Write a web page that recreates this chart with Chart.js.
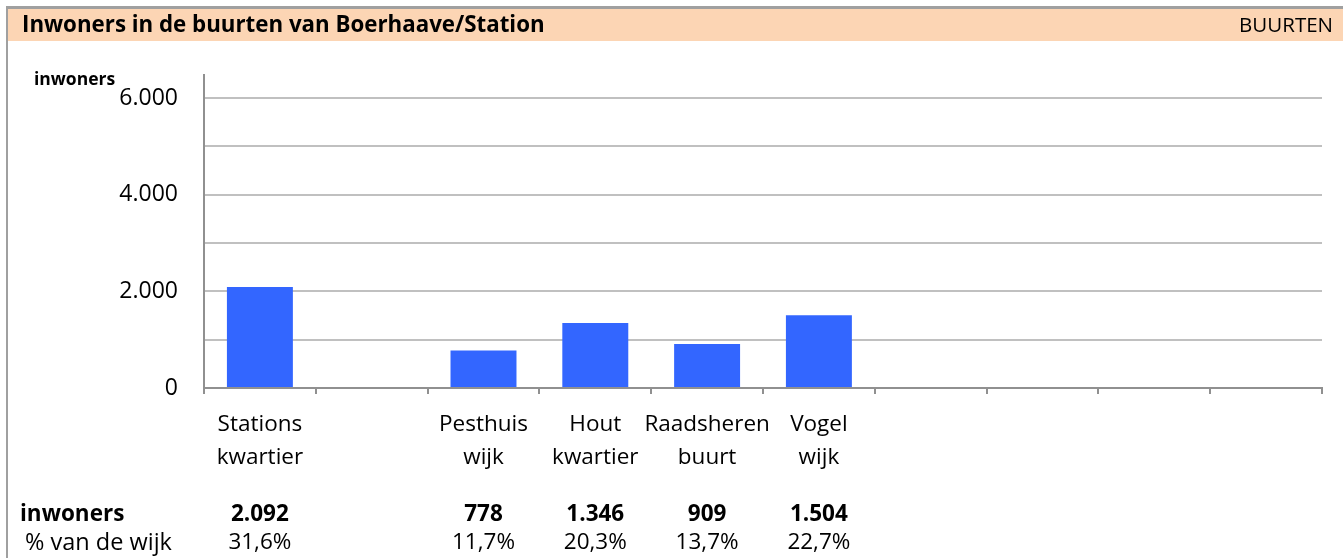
<!DOCTYPE html>
<html>
<head>
<meta charset="utf-8">
<script src="https://cdn.jsdelivr.net/npm/chart.js@4.4.0/dist/chart.umd.min.js"></script>
<style>
  html, body { margin: 0; padding: 0; background: #fff; }
  #wrap { width: 1343px; height: 558px; position: relative; }
</style>
</head>
<body>
<div id="wrap"><canvas id="buurtChart"></canvas></div>
<script>
// setup
const buurten = [
  ['Stations', 'kwartier'], '', ['Pesthuis', 'wijk'], ['Hout', 'kwartier'],
  ['Raadsheren', 'buurt'], ['Vogel', 'wijk'], '', '', '', ''
];
const inwoners = [2092, null, 778, 1346, 909, 1504, null, null, null, null];
const procentWijk = [31.6, null, 11.7, 20.3, 13.7, 22.7, null, null, null, null];
const yTicks = [0, 1000, 2000, 3000, 4000, 5000, 6000];

const FONT = '"Open Sans", sans-serif';

function nl(n) {
  return String(n).replace(/\B(?=(\d{3})+(?!\d))/g, '.');
}

// header, border and the little table underneath
const decor = {
  id: 'decor',
  beforeDraw(chart) {
    const ctx = chart.ctx;
    ctx.save();
    ctx.fillStyle = '#fcd5b4';
    ctx.fillRect(8, 8, 1335, 33);
    ctx.fillStyle = '#a0a0a0';
    ctx.fillRect(6, 6, 1337, 3);
    ctx.fillRect(6, 6, 2, 552);
    ctx.fillStyle = '#000';
    ctx.textBaseline = 'middle';
    ctx.font = 'bold 22.3px ' + FONT;
    ctx.fillText('Inwoners in de buurten van Boerhaave/Station', 22, 26);
    ctx.font = '20.5px ' + FONT;
    ctx.textAlign = 'right';
    ctx.fillText('BUURTEN', 1333, 26);
    ctx.textAlign = 'left';
    ctx.font = 'bold 17.5px ' + FONT;
    ctx.fillText('inwoners', 34, 80);
    ctx.restore();
  },
  afterDraw(chart) {
    const ctx = chart.ctx;
    const x = chart.scales.x;
    ctx.save();
    ctx.fillStyle = '#000';
    ctx.textBaseline = 'middle';
    ctx.font = 'bold 22.5px ' + FONT;
    ctx.fillText('inwoners', 20, 515);
    ctx.font = '23.5px ' + FONT;
    ctx.fillText('% van de wijk', 25, 543);
    ctx.textAlign = 'center';
    inwoners.forEach((v, i) => {
      if (v === null) return;
      const px = x.getPixelForValue(i);
      ctx.font = 'bold 22.5px ' + FONT;
      ctx.fillText(nl(v), px, 515);
      ctx.font = '22.5px ' + FONT;
      ctx.fillText(procentWijk[i].toFixed(1).replace('.', ',') + '%', px, 543);
    });
    ctx.restore();
  }
};

const data = {
  labels: buurten,
  datasets: [{
    label: 'inwoners',
    data: inwoners,
    backgroundColor: '#3366ff',
    borderWidth: 0,
    categoryPercentage: 1,
    barPercentage: 0.59
  }]
};

// config
const config = {
  type: 'bar',
  data,
  options: {
    responsive: false,
    animation: false,
    layout: { padding: { left: 0, right: 21, top: 75, bottom: 0 } },
    plugins: { legend: { display: false }, tooltip: { enabled: false } },
    scales: {
      x: {
        grid: { drawOnChartArea: false, color: '#909090', lineWidth: 2, tickLength: 6 },
        border: { color: '#909090', width: 2 },
        ticks: { color: '#000', font: { family: FONT, size: 22.5, lineHeight: 1.47 }, padding: 14, maxRotation: 0, autoSkip: false },
        afterFit(scale) { scale.height = 170; }
      },
      y: {
        min: 0,
        max: 6476,
        afterBuildTicks(scale) { scale.ticks = yTicks.map(v => ({ value: v })); },
        grid: { color: '#c0c0c0', lineWidth: 2, drawTicks: false },
        border: { color: '#909090', width: 2 },
        ticks: {
          color: '#000',
          padding: 26,
          font: { family: FONT, size: 23 },
          callback: v => (v % 2000 === 0 ? nl(v) : '')
        },
        afterFit(scale) { scale.width = 204; }
      }
    }
  },
  plugins: [decor]
};

// render init block
const canvas = document.getElementById('buurtChart');
canvas.width = 1343;
canvas.height = 558;
const buurtChart = new Chart(canvas, config);
</script>
</body>
</html>
